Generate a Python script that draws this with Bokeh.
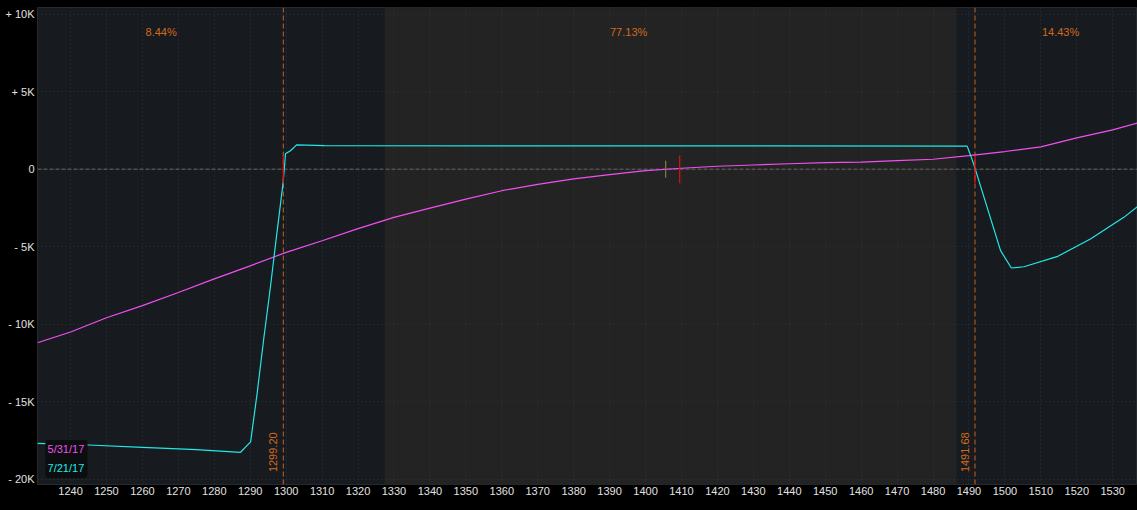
from bokeh.plotting import figure
from bokeh.models import (Range1d, FixedTicker, Span, BoxAnnotation, Label,
                          ColumnDataSource, GlobalInlineStyleSheet)
from bokeh.embed import file_html
from bokeh.resources import INLINE

# ---------------- data ----------------
series_names = ["5/31/17", "7/21/17"]

price_a = [1230.8, 1240, 1250, 1260, 1270, 1280, 1290, 1300, 1310, 1320, 1330, 1340,
           1350, 1360, 1370, 1380, 1390, 1400, 1410, 1420, 1430, 1440, 1450, 1460,
           1470, 1480, 1490, 1500, 1510, 1520, 1530, 1536.9]
pl_a = [-11200, -10500, -9580, -8800, -7950, -7070, -6230, -5360, -4610, -3830, -3100, -2500,
        -1920, -1380, -970, -620, -340, -80, 70, 200, 280, 360, 430, 460,
        560, 650, 880, 1150, 1450, 2030, 2550, 3000]

price_b = [1230.8, 1245.0, 1260.0, 1275.0, 1287.3, 1290.1, 1291.9, 1293.8, 1295.6, 1297.5,
           1299.1, 1299.6, 1299.8, 1301.2, 1302.9, 1310.7, 1489.5, 1489.9, 1491.3, 1498.8,
           1501.8, 1505.3, 1514.5, 1523.8, 1533.1, 1536.9]
pl_b = [-17700, -17800, -17950, -18100, -18270, -17600, -14500, -10860, -7630, -3960,
        -950, 350, 1000, 1200, 1580, 1530, 1500, 1250, 350, -5250,
        -6370, -6290, -5640, -4500, -3100, -2410]

breakevens = [1299.20, 1491.68]
breakeven_labels = ["1299.20", "1491.68"]
zero_cross = [1299.2, 1409.5, 1491.68]
current_price = [1405.6]
band_edges = [1327.4, 1486.5]
prob_labels = ["8.44%", "77.13%", "14.43%"]
prob_x = [1265.2, 1395.3, 1515.5]

x_ticks = list(range(1240, 1531, 10))
y_ticks = [-20000, -15000, -10000, -5000, 0, 5000, 10000]
y_tick_labels = ["- 20K", "- 15K", "- 10K", "- 5K", "0", "+ 5K", "+ 10K"]

# ---------------- styles ----------------
FONT = "Liberation Sans"
MAGENTA = "#f050f0"
CYAN = "#22e8e8"
ORANGE = "#d2691e"
TXT = "#e2e2e2"

p = figure(width=1137, height=510, output_backend="svg", toolbar_location=None,
           x_range=Range1d(1230.8, 1536.9), y_range=Range1d(-20350, 10450),
           min_border_left=37, min_border_right=0, min_border_top=7, min_border_bottom=26)
p.stylesheets = [GlobalInlineStyleSheet(
    css="html, body { margin: 0 !important; padding: 0 !important; background: #000; overflow: hidden; }")]
p.background_fill_color = "#171b1f"
p.border_fill_color = "#000000"
p.outline_line_color = "#262a2e"

# axes
p.xaxis.ticker = FixedTicker(ticks=x_ticks)
p.yaxis.ticker = FixedTicker(ticks=y_ticks)
p.yaxis.major_label_overrides = {t: l for t, l in zip(y_ticks, y_tick_labels)}
for ax in (p.xaxis, p.yaxis):
    ax.axis_line_color = None
    ax.major_tick_line_color = None
    ax.minor_tick_line_color = None
    ax.major_tick_out = 0
    ax.major_tick_in = 0
    ax.minor_tick_out = 0
    ax.axis_label_standoff = 0
    ax.major_label_text_color = TXT
    ax.major_label_text_font = FONT
    ax.major_label_text_font_size = "11px"
p.xaxis.major_label_standoff = 2
p.yaxis.major_label_standoff = 3

# grid
p.xgrid.ticker = FixedTicker(ticks=x_ticks)
p.ygrid.ticker = FixedTicker(ticks=y_ticks)
for g in (p.xgrid, p.ygrid):
    g.grid_line_color = "#30353a"
    g.grid_line_dash = "1 3"
    g.grid_line_width = 1

# shaded middle band (under the grid)
p.add_layout(BoxAnnotation(left=band_edges[0], right=band_edges[1], fill_color="#232323",
                           fill_alpha=1, line_color=None, level="image"))

# zero line
p.add_layout(Span(location=0, dimension="width", line_color="#505050",
                  line_dash="4 2", line_width=1.5, level="underlay"))

# breakeven dashed lines + labels
for bx, bl in zip(breakevens, breakeven_labels):
    p.add_layout(Span(location=bx, dimension="height", line_color="#c8641e",
                      line_dash="5 3", line_width=1, level="underlay"))
    p.add_layout(Label(x=bx, y=-19550, text=bl, angle=1.5708, text_align="left",
                       text_baseline="bottom", x_offset=-6, text_color=ORANGE,
                       text_font=FONT, text_font_size="11px"))

# probability labels
for px_, pl in zip(prob_x, prob_labels):
    p.add_layout(Label(x=px_, y=8840, text=pl, text_align="center", text_baseline="middle",
                       text_color=ORANGE, text_font=FONT, text_font_size="11px"))

# P/L lines
src_a = ColumnDataSource(dict(x=price_a, y=pl_a))
src_b = ColumnDataSource(dict(x=price_b, y=pl_b))
p.line("x", "y", source=src_a, line_color=MAGENTA, line_width=1.2)
p.line("x", "y", source=src_b, line_color=CYAN, line_width=1.2)

# markers at zero crossings / current price
p.segment(x0=zero_cross, y0=[-900] * len(zero_cross), x1=zero_cross, y1=[900] * len(zero_cross),
          line_color="#e01010", line_width=1.2)
p.segment(x0=current_price, y0=[-550], x1=current_price, y1=[550],
          line_color="#8a7a4a", line_width=1.2)

# legend box
p.add_layout(BoxAnnotation(left=1233.0, right=1244.7, top=-17470, bottom=-19930,
                           fill_color="#0b0d0f", fill_alpha=1, line_color=None,
                           border_radius=3))
for name, col, yy in zip(series_names, [MAGENTA, CYAN], [-18090, -19260]):
    p.add_layout(Label(x=1233.6, y=yy, text=name, text_align="left", text_baseline="middle",
                       text_color=col, text_font=FONT, text_font_size="11px"))

open("out.html", "w").write(file_html(p, INLINE))
